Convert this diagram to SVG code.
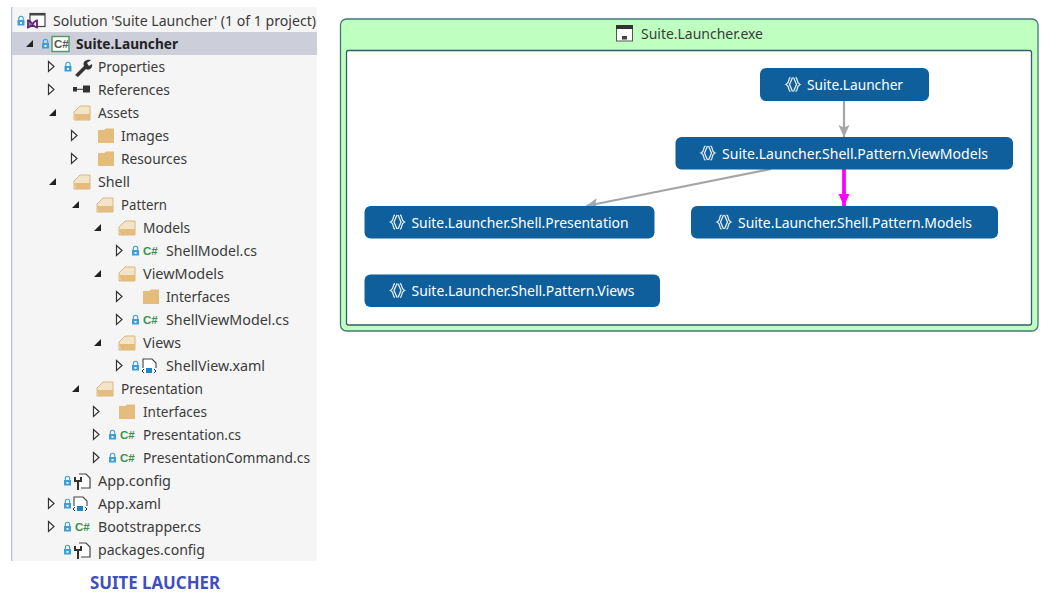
<svg xmlns="http://www.w3.org/2000/svg" width="1049" height="596" viewBox="0 0 1049 596">
<style>
text{font-family:"Noto Sans","Open Sans","Liberation Sans",sans-serif}
.t{font-size:14.5px;fill:#3b3b3b}
.b{font-weight:700;fill:#222}
.cs{font-size:11.5px;font-weight:900;fill:#3f8f4f;font-family:"Liberation Sans",sans-serif}
.n{fill:#0f5f9c}
.nt{font-size:14.5px;fill:#fff}
.ic{fill:none;stroke:#e6edf4;stroke-width:1.3}
</style>
<defs>
<marker id="ag" markerUnits="userSpaceOnUse" markerWidth="13" markerHeight="12" refX="12" refY="5.500" orient="auto"><path d="M0 0L12 5.500L0 11L2.500 5.500Z" fill="#a6a6a6"/></marker>
<marker id="am" markerUnits="userSpaceOnUse" markerWidth="13" markerHeight="12" refX="12" refY="5.500" orient="auto"><path d="M0 0L12 5.500L0 11Z" fill="#ff00ff"/></marker>
<g id="col"><path d="M-2.500 -5L3 0L-2.500 5Z" fill="#fff" stroke="#333" stroke-width="1.200"/></g>
<g id="exp"><path d="M4 -4V3H-3Z" fill="#222"/></g>
<g id="lock"><rect x="-3.500" y="-1" width="7" height="5.500" fill="#3d9fd3"/><path d="M-2.200 -1V-2.500A2.200 2.200 0 0 1 2.200 -2.500V-1" fill="none" stroke="#3d9fd3" stroke-width="1.100"/><rect x="-1" y="1" width="2" height="1.800" fill="#fff"/></g>
<g id="fc"><path d="M-8 -6H-2L0 -7.500H8V7H-8Z" fill="#e4bd7d"/></g>
<g id="fo"><path d="M-8 -1L-2 -7H8V7H-8Z" fill="#f3e4c8" stroke="#d8b67e" stroke-width="1"/><path d="M-8 1H8V7H-6Z" fill="#e4bd7d"/></g>
<g id="cfg"><path d="M-3 -7H4L8 -3V7H-1" fill="#fff" stroke="#444" stroke-width="1.200"/><path d="M-7 -4V0H-1V-4M-4 0V9" fill="none" stroke="#333" stroke-width="2"/></g>
<g id="xm"><path d="M-6 2V-7H3L7 -3V2" fill="#fff" stroke="#444" stroke-width="1.100"/><rect x="-3" y="2" width="6" height="5" fill="#1e86c8"/><path d="M-5 3L-7 5L-5 7M5 3L7 5L5 7" fill="none" stroke="#333" stroke-width="1"/></g>
<g id="ns"><path class="ic" d="M-2.500 -7C-5.500 -6.500 -2.500 -2 -7 0C-2.500 2 -5.500 6.500 -2.500 7M-0.500 -7L-3.500 0L-0.500 7M2.500 -7C5.500 -6.500 2.500 -2 7 0C2.500 2 5.500 6.500 2.500 7M0.500 -7L3.500 0L0.500 7"/></g>
</defs>
<rect width="1049" height="596" fill="#fff"/>
<g id="tree-panel">
<rect x="11" y="7" width="306" height="554" fill="#f5f5f5"/>
<rect x="11" y="7" width="1.300" height="554" fill="#b9c4d6"/>
<rect x="12" y="32" width="305" height="23" fill="#ccceda"/>
</g>
<g id="tree">
<g id="row-solution"><use href="#lock" x="21" y="21"/><rect x="30" y="13.500" width="15" height="13" fill="#fff" stroke="#444" stroke-width="1.200"/><rect x="30" y="13" width="15" height="2.500" fill="#444"/><path d="M28 20.500C31 20.500 34 27.500 37 27.500V20.500C34 20.500 31 27.500 28 27.500Z" fill="none" stroke="#68217a" stroke-width="1.800"/><text class="t" x="53" y="25.500" textLength="263" lengthAdjust="spacingAndGlyphs">Solution 'Suite Launcher' (1 of 1 project)</text></g>
<g id="row-project"><use href="#exp" x="29" y="44"/><use href="#lock" x="45.500" y="44"/><rect x="52" y="36.500" width="17" height="15" fill="#fff" stroke="#5a9a68" stroke-width="1.500"/><text class="cs" x="54" y="48" style="fill:#555">C#</text><text class="t b" x="76" y="48.500" textLength="102" lengthAdjust="spacingAndGlyphs">Suite.Launcher</text></g>
<g id="row-properties"><use href="#col" x="51" y="66.500"/><use href="#lock" x="68" y="67"/><path d="M75 75L84 66C82 61 87 59 91 60L87 63L89 66L92 64C93 68 89 71 86 69L78 77Z" fill="#333"/><text class="t" x="98" y="71.500" textLength="67" lengthAdjust="spacingAndGlyphs">Properties</text></g>
<g id="row-references"><use href="#col" x="51" y="89.500"/><rect x="73" y="87" width="4" height="4.500" fill="#333"/><rect x="77" y="88.800" width="6" height="1" fill="#333"/><rect x="83" y="85.500" width="7" height="7" fill="#333"/><text class="t" x="98" y="94.500" textLength="72" lengthAdjust="spacingAndGlyphs">References</text></g>
<g id="row-assets"><use href="#exp" x="52" y="113"/><use href="#fo" x="82" y="113"/><text class="t" x="98" y="117.500" textLength="41" lengthAdjust="spacingAndGlyphs">Assets</text></g>
<g id="row-images"><use href="#col" x="74" y="135.500"/><use href="#fc" x="106" y="136"/><text class="t" x="121" y="140.500" textLength="48" lengthAdjust="spacingAndGlyphs">Images</text></g>
<g id="row-resources"><use href="#col" x="74" y="158.500"/><use href="#fc" x="106" y="159"/><text class="t" x="121" y="163.500" textLength="66" lengthAdjust="spacingAndGlyphs">Resources</text></g>
<g id="row-shell"><use href="#exp" x="52" y="182"/><use href="#fo" x="82" y="182"/><text class="t" x="98" y="186.500" textLength="32" lengthAdjust="spacingAndGlyphs">Shell</text></g>
<g id="row-pattern"><use href="#exp" x="75" y="205"/><use href="#fo" x="105" y="205"/><text class="t" x="121" y="209.500" textLength="46" lengthAdjust="spacingAndGlyphs">Pattern</text></g>
<g id="row-models"><use href="#exp" x="97" y="228"/><use href="#fo" x="127" y="228"/><text class="t" x="143" y="232.500" textLength="47" lengthAdjust="spacingAndGlyphs">Models</text></g>
<g id="row-shellmodel"><use href="#col" x="119" y="250.500"/><use href="#lock" x="135.500" y="251"/><text class="cs" x="143" y="255">C#</text><text class="t" x="166" y="255.500" textLength="91" lengthAdjust="spacingAndGlyphs">ShellModel.cs</text></g>
<g id="row-viewmodels"><use href="#exp" x="97" y="274"/><use href="#fo" x="127" y="274"/><text class="t" x="143" y="278.500" textLength="81" lengthAdjust="spacingAndGlyphs">ViewModels</text></g>
<g id="row-vm-interfaces"><use href="#col" x="119" y="296.500"/><use href="#fc" x="151" y="297"/><text class="t" x="166" y="301.500" textLength="64" lengthAdjust="spacingAndGlyphs">Interfaces</text></g>
<g id="row-shellviewmodel"><use href="#col" x="119" y="319.500"/><use href="#lock" x="135.500" y="320"/><text class="cs" x="143" y="324">C#</text><text class="t" x="166" y="324.500" textLength="123" lengthAdjust="spacingAndGlyphs">ShellViewModel.cs</text></g>
<g id="row-views"><use href="#exp" x="97" y="343"/><use href="#fo" x="127" y="343"/><text class="t" x="143" y="347.500" textLength="38" lengthAdjust="spacingAndGlyphs">Views</text></g>
<g id="row-shellview"><use href="#col" x="119" y="365.500"/><use href="#lock" x="135.500" y="366"/><use href="#xm" x="149" y="366"/><text class="t" x="166" y="370.500" textLength="99" lengthAdjust="spacingAndGlyphs">ShellView.xaml</text></g>
<g id="row-presentation"><use href="#exp" x="75" y="389"/><use href="#fo" x="105" y="389"/><text class="t" x="121" y="393.500" textLength="82" lengthAdjust="spacingAndGlyphs">Presentation</text></g>
<g id="row-p-interfaces"><use href="#col" x="96" y="411.500"/><use href="#fc" x="127" y="412"/><text class="t" x="143" y="416.500" textLength="64" lengthAdjust="spacingAndGlyphs">Interfaces</text></g>
<g id="row-presentation-cs"><use href="#col" x="96" y="434.500"/><use href="#lock" x="112.500" y="435"/><text class="cs" x="120" y="439">C#</text><text class="t" x="143" y="439.500" textLength="98" lengthAdjust="spacingAndGlyphs">Presentation.cs</text></g>
<g id="row-presentationcommand"><use href="#col" x="96" y="457.500"/><use href="#lock" x="112.500" y="458"/><text class="cs" x="120" y="462">C#</text><text class="t" x="143" y="462.500" textLength="167" lengthAdjust="spacingAndGlyphs">PresentationCommand.cs</text></g>
<g id="row-appconfig"><use href="#lock" x="67.500" y="481"/><use href="#cfg" x="82" y="481"/><text class="t" x="98" y="485.500" textLength="73" lengthAdjust="spacingAndGlyphs">App.config</text></g>
<g id="row-appxaml"><use href="#col" x="51" y="503.500"/><use href="#lock" x="67.500" y="504"/><use href="#xm" x="80" y="504"/><text class="t" x="98" y="508.500" textLength="63" lengthAdjust="spacingAndGlyphs">App.xaml</text></g>
<g id="row-bootstrapper"><use href="#col" x="51" y="526.500"/><use href="#lock" x="67.500" y="527"/><text class="cs" x="75" y="531">C#</text><text class="t" x="98" y="531.500" textLength="103" lengthAdjust="spacingAndGlyphs">Bootstrapper.cs</text></g>
<g id="row-packages"><use href="#lock" x="67.500" y="550"/><use href="#cfg" x="82" y="550"/><text class="t" x="98" y="554.500" textLength="107" lengthAdjust="spacingAndGlyphs">packages.config</text></g>
</g>
<text id="caption" x="90" y="589" font-size="17" font-weight="700" fill="#3f4fc0" textLength="130" lengthAdjust="spacingAndGlyphs">SUITE LAUCHER</text>
<g id="assembly">
<rect x="340.500" y="19" width="697.500" height="312" rx="6" fill="#bfffc0" stroke="#3e7a78" stroke-width="1.300"/>
<rect x="346.500" y="50.500" width="685" height="274.500" rx="2" fill="#fff" stroke="#2f5f6a" stroke-width="1.300"/>
<rect x="616.500" y="26" width="16" height="15" fill="#fff" stroke="#555" stroke-width="1"/><rect x="616" y="25" width="17" height="4" fill="#333"/><rect x="622" y="36" width="5" height="3.500" fill="#444"/>
<text class="t" x="641" y="39" textLength="122" lengthAdjust="spacingAndGlyphs">Suite.Launcher.exe</text>
</g>
<g id="connectors" fill="none">
<path d="M844 101V137" stroke="#a6a6a6" stroke-width="2.200" marker-end="url(#ag)"/>
<path d="M771 169L586 206" stroke="#a6a6a6" stroke-width="2.200" marker-end="url(#ag)"/>
<path d="M844 169V206" stroke="#ff00ff" stroke-width="3.800" marker-end="url(#am)"/>
</g>
<g id="node-launcher"><rect class="n" x="760" y="68" width="169" height="33" rx="6"/><use href="#ns" x="793" y="84.500"/><text class="nt" x="807" y="90" textLength="96" lengthAdjust="spacingAndGlyphs">Suite.Launcher</text></g>
<g id="node-viewmodels"><rect class="n" x="675.500" y="137" width="337.500" height="32.500" rx="6"/><use href="#ns" x="708" y="153"/><text class="nt" x="722" y="158.500" textLength="266" lengthAdjust="spacingAndGlyphs">Suite.Launcher.Shell.Pattern.ViewModels</text></g>
<g id="node-models"><rect class="n" x="691" y="206" width="307" height="32.500" rx="6"/><use href="#ns" x="724" y="222"/><text class="nt" x="738" y="227.500" textLength="234" lengthAdjust="spacingAndGlyphs">Suite.Launcher.Shell.Pattern.Models</text></g>
<g id="node-presentation"><rect class="n" x="364.500" y="206" width="290" height="32.500" rx="6"/><use href="#ns" x="397.500" y="222"/><text class="nt" x="411.500" y="227.500" textLength="217" lengthAdjust="spacingAndGlyphs">Suite.Launcher.Shell.Presentation</text></g>
<g id="node-views"><rect class="n" x="364.500" y="274.500" width="295.500" height="32.500" rx="6"/><use href="#ns" x="397.500" y="290.500"/><text class="nt" x="411.500" y="296" textLength="223" lengthAdjust="spacingAndGlyphs">Suite.Launcher.Shell.Pattern.Views</text></g>
</svg>
